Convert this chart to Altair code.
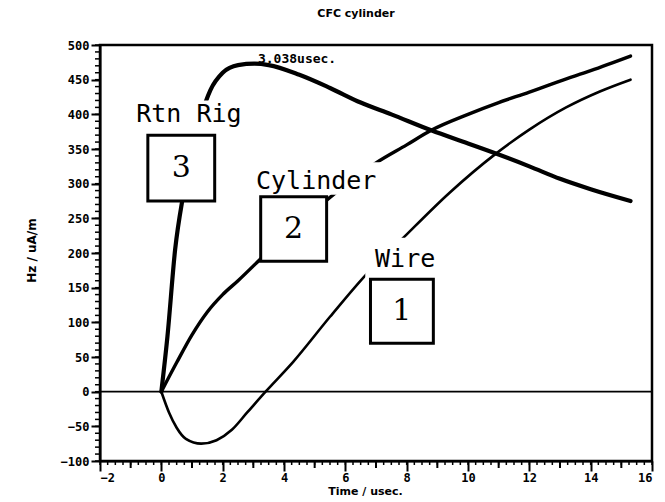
import altair as alt
import pandas as pd

# ---- data ----
rtn_t = [0, 0.2, 0.45, 0.7, 1.0, 1.3, 1.6, 2.0, 2.5, 3.04, 3.5, 4.5, 5.5, 6.5, 7.5, 8.8, 10, 11, 12, 13, 14, 15.3]
rtn_v = [0, 80, 205, 280, 345, 398, 435, 460, 471, 473, 471, 457, 438, 417, 400, 377, 358, 342, 325, 307, 292, 275]

cyl_t = [0, 0.5, 1, 1.5, 2, 2.5, 3.2, 4, 5, 6, 7, 8, 8.8, 10, 11, 12, 13, 14, 15.3]
cyl_v = [0, 42, 82, 115, 140, 160, 190, 225, 262, 298, 330, 356, 377, 400, 417, 432, 448, 463, 484]

wire_t = [0, 0.25, 0.5, 0.8, 1.3, 1.8, 2.3, 2.8, 3.4, 4.3, 5.5, 6.7, 7.8, 9.4, 10.9, 12, 13.2, 14.3, 15.3]
wire_v = [0, -30, -52, -68, -75, -70, -55, -30, 0, 43, 108, 170, 218, 287, 343, 378, 410, 433, 450]

series_names = ["Rtn Rig", "Cylinder", "Wire"]
series_widths = [4.2, 2.6, 2.0]

# label annotations (text, box number)
label_text = ["Rtn Rig", "Cylinder", "Wire"]
label_num = ["3", "2", "1"]
label_tx = [0.9, 5.05, 7.95]
label_ty = [401, 304, 191]
bg_x1 = [-1.3, 2.55, 6.65]
bg_x2 = [3.1, 7.55, 9.25]
bg_y1 = [368, 284, 158]
bg_y2 = [420, 331, 222]
box_x1 = [-0.44, 3.24, 6.82]
box_x2 = [1.74, 5.39, 8.87]
box_y1 = [275, 188, 70]
box_y2 = [370, 281, 162]

peak_label = "3.038usec."
peak_t = [3.15]
peak_v = [480]

# axis ticks
x_major = list(range(-2, 17, 2))
x_mid = list(range(-1, 16, 2))
x_minor = [i * 0.25 for i in range(-8, 65)]
y_major = list(range(-100, 501, 50))
y_minor = list(range(-100, 501, 10))

# ---- tables ----
rows = []
for name, ts, vs in zip(series_names, [rtn_t, cyl_t, wire_t], [rtn_v, cyl_v, wire_v]):
    for t, v in zip(ts, vs):
        rows.append({"series": name, "t": t, "v": v})
df = pd.DataFrame(rows)

lab = pd.DataFrame({
    "text": label_text, "num": label_num, "tx": label_tx, "ty": label_ty,
    "bx1": bg_x1, "bx2": bg_x2, "by1": bg_y1, "by2": bg_y2,
    "x1": box_x1, "x2": box_x2, "y1": box_y1, "y2": box_y2,
})
lab["cx"] = (lab["x1"] + lab["x2"]) / 2
lab["cy"] = (lab["y1"] + lab["y2"]) / 2

peak = pd.DataFrame({"t": peak_t, "v": peak_v, "text": [peak_label]})
zero = pd.DataFrame({"v": [0]})

W, H = 552, 416
xs = alt.Scale(domain=[-2, 16], nice=False, zero=False)
ys = alt.Scale(domain=[-100, 500], nice=False, zero=False)

LF = "DejaVu Sans"
MF = "DejaVu Sans Mono"

x_axis = alt.Axis(
    values=x_major, format="d", orient="bottom",
    tickSize=10, tickWidth=2, labelOverlap=False,
    labelFontSize=12, labelFontWeight="bold", labelFont=MF, labelPadding=1,
    title="Time / usec.", titleFont=LF, titleFontSize=11, titleFontWeight="bold",
    titlePadding=2, titleX=265, domain=True, domainWidth=2, grid=False,
)
y_axis = alt.Axis(
    values=y_major, format="d", orient="left",
    tickSize=9, tickWidth=2, labelOverlap=False,
    labelFontSize=12, labelFontWeight="bold", labelFont=MF, labelPadding=2,
    title="Hz / uA/m", titleFont=LF, titleFontSize=12, titleFontWeight="bold",
    titleX=-62, titleY=205, domain=True, domainWidth=2, grid=False,
)

lines = alt.Chart(df).mark_line(color="black", interpolate="monotone", strokeCap="round").encode(
    x=alt.X("t:Q", scale=xs, axis=x_axis),
    y=alt.Y("v:Q", scale=ys, axis=y_axis),
    strokeWidth=alt.StrokeWidth("series:N", scale=alt.Scale(domain=series_names, range=series_widths), legend=None),
    detail="series:N",
)

# minor / mid tick marks, positioned by the shared scales
def xticks(vals, length, width):
    return alt.Chart(pd.DataFrame({"t": vals})).mark_rule(color="black", strokeWidth=width).encode(
        x=alt.X("t:Q", scale=xs, axis=None), y=alt.value(H), y2=alt.value(H + length))

def yticks(vals, length, width):
    return alt.Chart(pd.DataFrame({"v": vals})).mark_rule(color="black", strokeWidth=width).encode(
        y=alt.Y("v:Q", scale=ys, axis=None), x=alt.value(0), x2=alt.value(-length))

xt_minor = xticks(x_minor, 4, 1.5)
xt_mid = xticks(x_mid, 7, 2)
yt_minor = yticks(y_minor, 5, 1.5)

zero_rule = alt.Chart(zero).mark_rule(color="black", strokeWidth=1.6).encode(
    y=alt.Y("v:Q", scale=ys, axis=None),
)

bg = alt.Chart(lab).mark_rect(fill="white", stroke=None).encode(
    x=alt.X("bx1:Q", scale=xs, axis=None), x2="bx2:Q",
    y=alt.Y("by1:Q", scale=ys, axis=None), y2="by2:Q",
)
boxes = alt.Chart(lab).mark_rect(fill="white", stroke="black", strokeWidth=3).encode(
    x=alt.X("x1:Q", scale=xs, axis=None), x2="x2:Q",
    y=alt.Y("y1:Q", scale=ys, axis=None), y2="y2:Q",
)
nums = alt.Chart(lab).mark_text(font="DejaVu Serif", fontSize=30, color="black",
                                baseline="middle", align="center").encode(
    x=alt.X("cx:Q", scale=xs, axis=None), y=alt.Y("cy:Q", scale=ys, axis=None), text="num:N",
)
texts = alt.Chart(lab).mark_text(font=MF, fontSize=25, color="black",
                                 baseline="middle", align="center").encode(
    x=alt.X("tx:Q", scale=xs, axis=None), y=alt.Y("ty:Q", scale=ys, axis=None), text="text:N",
)
peak_text = alt.Chart(peak).mark_text(font=MF, fontSize=13, fontWeight="bold", color="black",
                                      align="left", baseline="middle").encode(
    x=alt.X("t:Q", scale=xs, axis=None), y=alt.Y("v:Q", scale=ys, axis=None), text="text:N",
)

chart = alt.layer(
    lines, xt_minor, xt_mid, yt_minor, zero_rule, bg, boxes, nums, texts, peak_text
).resolve_axis(
    x="independent", y="independent"
).properties(
    width=W, height=H,
    autosize=alt.AutoSizeParams(type="none"),
    padding={"left": 92, "top": 37, "right": 5, "bottom": 40},
    title=alt.Title("CFC cylinder", font=LF, fontSize=11, fontWeight="bold",
                    anchor="middle", dx=-20, offset=20),
).configure_view(
    stroke="black", strokeWidth=2.5
).configure_axis(
    domainColor="black", tickColor="black", labelColor="black", titleColor="black"
)

chart.save("out.html", embed_options={"renderer": "svg", "actions": False})
